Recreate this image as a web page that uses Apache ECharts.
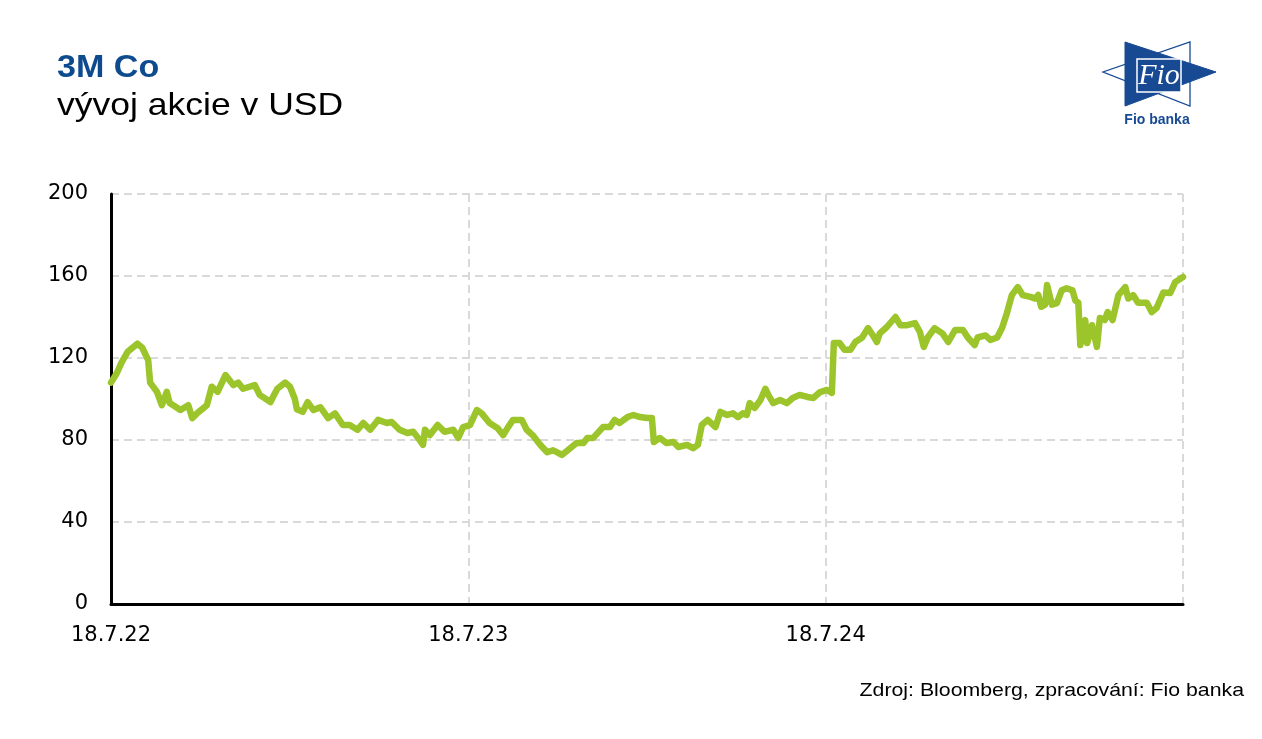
<!DOCTYPE html>
<html>
<head>
<meta charset="utf-8">
<script src="https://cdn.jsdelivr.net/npm/echarts@6/dist/echarts.min.js"></script>
<style>
html,body{margin:0;padding:0;background:#fff;}
#chart{width:1262px;height:739px;}
</style>
</head>
<body>
<div id="chart"></div>
<script>
// ---- data ----
const titleText = '3M Co';
const subtitleText = 'vývoj akcie v USD';
const sourceText = 'Zdroj: Bloomberg, zpracování: Fio banka';
const startDate = '2022-07-18';
const endDate = '2025-07-18';
const xTickLabels = ['18.7.22', '18.7.23', '18.7.24', ''];
const yTicks = [0, 40, 80, 120, 160, 200];

const dates = ['2022-07-18','2022-07-24','2022-07-29','2022-08-04','2022-08-14','2022-08-19','2022-08-25','2022-08-27','2022-09-03','2022-09-08',
'2022-09-13','2022-09-16','2022-09-27','2022-10-05','2022-10-09','2022-10-14','2022-10-24','2022-10-29','2022-11-04','2022-11-12',
'2022-11-20','2022-11-25','2022-11-30','2022-12-12','2022-12-17','2022-12-28','2023-01-04','2023-01-12','2023-01-17','2023-01-22',
'2023-01-24','2023-01-30','2023-02-04','2023-02-10','2023-02-17','2023-02-25','2023-03-04','2023-03-12','2023-03-19','2023-03-27',
'2023-04-02','2023-04-09','2023-04-17','2023-04-26','2023-05-01','2023-05-09','2023-05-17','2023-05-23','2023-05-28','2023-06-02',
'2023-06-04','2023-06-09','2023-06-17','2023-06-24','2023-07-03','2023-07-08','2023-07-13','2023-07-20','2023-07-27','2023-08-01',
'2023-08-09','2023-08-17','2023-08-23','2023-08-28','2023-09-02','2023-09-11','2023-09-16','2023-09-22','2023-09-30','2023-10-07',
'2023-10-13','2023-10-22','2023-10-28','2023-11-06','2023-11-13','2023-11-17','2023-11-23','2023-12-03','2023-12-10','2023-12-15',
'2023-12-20','2023-12-28','2024-01-03','2024-01-10','2024-01-17','2024-01-22','2024-01-24','2024-01-30','2024-02-06','2024-02-13',
'2024-02-18','2024-02-27','2024-03-04','2024-03-09','2024-03-13','2024-03-19','2024-03-27','2024-04-01','2024-04-08','2024-04-14',
'2024-04-19','2024-04-24','2024-04-28','2024-05-01','2024-05-06','2024-05-12','2024-05-17','2024-05-20','2024-05-25','2024-06-01',
'2024-06-08','2024-06-14','2024-06-21','2024-06-29','2024-07-05','2024-07-12','2024-07-19','2024-07-24','2024-07-26','2024-08-01',
'2024-08-06','2024-08-12','2024-08-17','2024-08-24','2024-08-30','2024-09-04','2024-09-08','2024-09-11','2024-09-18','2024-09-27',
'2024-10-02','2024-10-09','2024-10-17','2024-10-22','2024-10-26','2024-10-30','2024-11-06','2024-11-14','2024-11-20','2024-11-27',
'2024-12-05','2024-12-10','2024-12-17','2024-12-20','2024-12-28','2025-01-02','2025-01-09','2025-01-14','2025-01-19','2025-01-24',
'2025-01-30','2025-02-04','2025-02-12','2025-02-17','2025-02-20','2025-02-23','2025-02-27','2025-03-01','2025-03-06','2025-03-11',
'2025-03-16','2025-03-21','2025-03-27','2025-03-30','2025-04-02','2025-04-04','2025-04-09','2025-04-11','2025-04-16','2025-04-21',
'2025-04-24','2025-04-29','2025-05-02','2025-05-07','2025-05-13','2025-05-20','2025-05-23','2025-05-28','2025-06-02','2025-06-11',
'2025-06-16','2025-06-21','2025-06-28','2025-07-05','2025-07-10','2025-07-18'];

const prices = [108,112.7,118,123,127,125,119,108,103.5,97,
103.5,98,94.6,97,90.7,93,97,106,103.5,111.7,
106.8,108,105,106.8,102,98.5,105,108,106,100,
95,93.7,98.5,94.6,96,90.7,93,87.3,87.3,85,
88.3,85,89.8,88.3,88.8,85,83.4,84,81,77.6,
85,82.4,87.3,84,85,81,86.3,87.3,94.6,93,
88.3,85.9,82.4,86.3,89.8,89.8,85,82.4,77.6,74,
75,72.7,75,78.5,78.5,81,81,86.3,86.3,89.8,
88.3,91.2,92.2,91.2,90.7,90.7,79,81,78.5,79,
76.6,77.6,76,77.6,87.3,89.8,86.3,93.7,92.2,93,
91.2,93,92.2,98,95.6,99.5,105,102,98,99.5,
98,100.5,102,101,100.5,103.4,104.4,103,127.3,127.3,
124,124,127.8,130,134.6,131,127.8,132,135,140,
136,136,137,132.7,125.4,130,134.6,132,127.8,133.7,
133.7,130,126.3,130,131,128.8,130,134.6,142,150.7,
154.6,150.7,149.8,149,150.7,145,146,155.6,146,146.8,
153,154,153,148,147,126.3,138.5,127.3,136,125.4,
139.5,138.5,142.4,138.5,150.7,154.6,149,150.7,147,147,
142.4,144.4,152,151.7,157,159.5];

// ---- helpers ----
const DAY = 86400000;
const toDay = s => (Date.parse(s + 'T00:00:00Z') - Date.parse(startDate + 'T00:00:00Z')) / DAY;
const spanDays = toDay(endDate);
const xInterval = spanDays / 3;
const seriesData = dates.map((d, i) => [toDay(d), prices[i]]);

const FONT = '"DejaVu Sans", "Liberation Sans", Arial, sans-serif';
const ARIAL = '"Liberation Sans", Arial, sans-serif';
const BLUE = '#0d4b8e';
const LOGO = '#174a93';

const chart = echarts.init(document.getElementById('chart'), null, {renderer: 'canvas'});
chart.setOption({
  animation: false,
  backgroundColor: '#ffffff',
  grid: {left: 111, right: 79, top: 194, bottom: 135, containLabel: false},
  xAxis: {
    type: 'value',
    min: 0,
    max: spanDays,
    interval: xInterval,
    axisLine: {show: true, onZero: false, lineStyle: {color: '#000', width: 3}},
    axisTick: {show: false},
    axisLabel: {
      show: true, margin: 21, color: '#000', fontSize: 21, fontFamily: FONT,
      formatter: v => xTickLabels[Math.round(v / xInterval)] || ''
    },
    splitLine: {show: true, lineStyle: {color: '#d9d9d9', width: 2, type: [8, 5]}}
  },
  yAxis: {
    type: 'value',
    min: yTicks[0],
    max: yTicks[yTicks.length - 1],
    interval: yTicks[1] - yTicks[0],
    axisLine: {show: true, lineStyle: {color: '#000', width: 3}},
    axisTick: {show: false},
    axisLabel: {show: true, margin: 23, color: '#000', fontSize: 21, fontFamily: FONT},
    splitLine: {show: true, lineStyle: {color: '#d9d9d9', width: 2, type: [8, 5]}}
  },
  series: [{
    type: 'line',
    data: seriesData,
    showSymbol: false,
    symbol: 'none',
    lineStyle: {color: '#9cc42b', width: 6.5, join: 'round', cap: 'round'},
    z: 5
  }],
  graphic: [
    {type: 'text', x: 57, y: 68, scaleX: 1.1, style: {text: titleText, x: 0, y: 0, font: 'bold 31px ' + ARIAL, fill: BLUE, textAlign: 'left', textVerticalAlign: 'middle'}},
    {type: 'text', x: 57, y: 106, scaleX: 1.11, style: {text: subtitleText, x: 0, y: 0, font: '32px ' + ARIAL, fill: '#000', textAlign: 'left', textVerticalAlign: 'middle'}},
    {type: 'text', x: 1244, y: 691, scaleX: 1.12, style: {text: sourceText, x: 0, y: 0, font: '19px ' + ARIAL, fill: '#000', textAlign: 'right', textVerticalAlign: 'middle'}},
    // logo
    {type: 'polygon', shape: {points: [[1190, 42], [1190, 106], [1103, 72]]}, style: {fill: '#fff', stroke: LOGO, lineWidth: 1.3}, z: 10},
    {type: 'polygon', shape: {points: [[1125, 42], [1125, 106], [1216, 72]]}, style: {fill: LOGO, stroke: LOGO, lineWidth: 1}, z: 11},
    {type: 'rect', shape: {x: 1137, y: 59, width: 44, height: 33}, style: {fill: LOGO, stroke: '#fff', lineWidth: 1.5}, z: 12},
    {type: 'text', style: {text: 'Fio', x: 1159, y: 76, font: 'italic 30px "Liberation Serif", "DejaVu Serif", serif', fill: '#fff', textAlign: 'center', textVerticalAlign: 'middle'}, z: 13},
    {type: 'text', style: {text: 'Fio banka', x: 1157, y: 120, font: 'bold 14px ' + ARIAL, fill: LOGO, textAlign: 'center', textVerticalAlign: 'middle'}, z: 13}
  ]
});
</script>
</body>
</html>
